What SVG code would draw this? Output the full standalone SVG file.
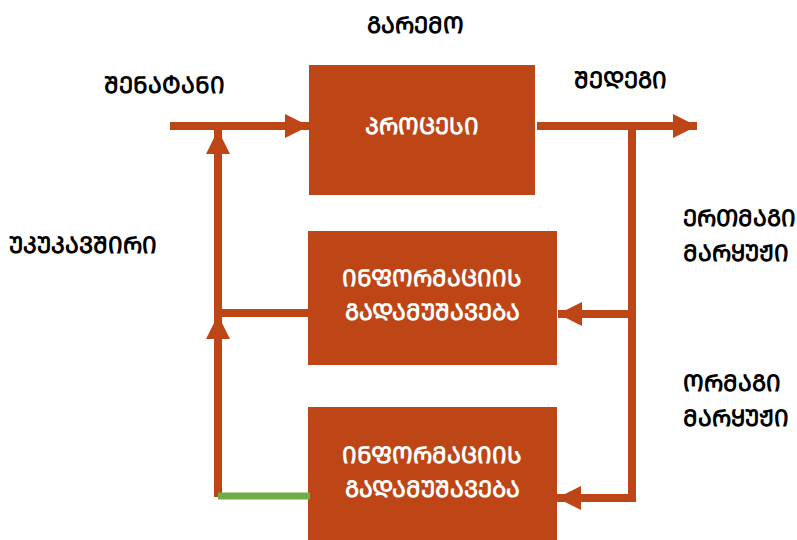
<svg xmlns="http://www.w3.org/2000/svg" width="797" height="540" viewBox="0 0 797 540">
<defs>
<style>
.box{fill:#BE4515}
.lbl{font-family:"DejaVu Sans","Noto Sans",sans-serif;font-weight:bold;font-size:23px;fill:#000}
.in{font-family:"DejaVu Sans","Noto Sans",sans-serif;font-weight:bold;font-size:23px;fill:#fff;text-anchor:middle}
.ln{stroke:#BE4515;stroke-width:8;fill:none}
</style>
<marker id="ah" viewBox="0 0 24 24" refX="24" refY="12" markerWidth="24" markerHeight="24" markerUnits="userSpaceOnUse" orient="auto">
<path d="M0,0 L24,12 L0,24 Z" fill="#BE4515"/>
</marker>
</defs>
<g id="label-environment"><text class="lbl" x="415" y="33" text-anchor="middle">ᲒᲐᲠᲔᲛᲝ</text></g>
<g id="label-input"><text class="lbl" x="104" y="93">ᲨᲔᲜᲐᲢᲐᲜᲘ</text></g>
<g id="label-output"><text class="lbl" x="574" y="88">ᲨᲔᲓᲔᲒᲘ</text></g>
<g id="label-feedback"><text class="lbl" x="9" y="253">ᲣᲙᲣᲙᲐᲕᲨᲘᲠᲘ</text></g>
<g id="label-single"><text class="lbl" x="683" y="226">ᲔᲠᲗᲛᲐᲒᲘ</text><text class="lbl" x="683" y="261">ᲛᲐᲠᲧᲣᲟᲘ</text></g>
<g id="label-double"><text class="lbl" x="683" y="391">ᲝᲠᲛᲐᲒᲘ</text><text class="lbl" x="683" y="426">ᲛᲐᲠᲧᲣᲟᲘ</text></g>
<g id="process"><rect class="box" x="309" y="65" width="226" height="130"/><text class="in" x="422" y="134">ᲞᲠᲝᲪᲔᲡᲘ</text></g>
<g id="info1"><rect class="box" x="308" y="231" width="249" height="134"/><text class="in" x="432" y="286">ᲘᲜᲤᲝᲠᲛᲐᲪᲘᲘᲡ</text><text class="in" x="432" y="320">ᲒᲐᲓᲐᲛᲣᲨᲐᲕᲔᲑᲐ</text></g>
<g id="info2"><rect class="box" x="308" y="407" width="249" height="133"/><text class="in" x="432" y="463">ᲘᲜᲤᲝᲠᲛᲐᲪᲘᲘᲡ</text><text class="in" x="432" y="497">ᲒᲐᲓᲐᲛᲣᲨᲐᲕᲔᲑᲐ</text></g>
<g id="connectors">
<path class="ln" d="M170,126 H309" marker-end="url(#ah)"/>
<path class="ln" d="M537,126 H697" marker-end="url(#ah)"/>
<path class="ln" d="M632,126 V500"/>
<path class="ln" d="M636,314 H558" marker-end="url(#ah)"/>
<path class="ln" d="M636,498 H557" marker-end="url(#ah)"/>
<path class="ln" d="M308,313 H214"/>
<path class="ln" d="M218,313 V130" marker-end="url(#ah)"/>
<path class="ln" d="M218,497 V315" marker-end="url(#ah)"/>
<path d="M218,496 H310" stroke="#70AD47" stroke-width="7" fill="none"/>
</g>
</svg>
